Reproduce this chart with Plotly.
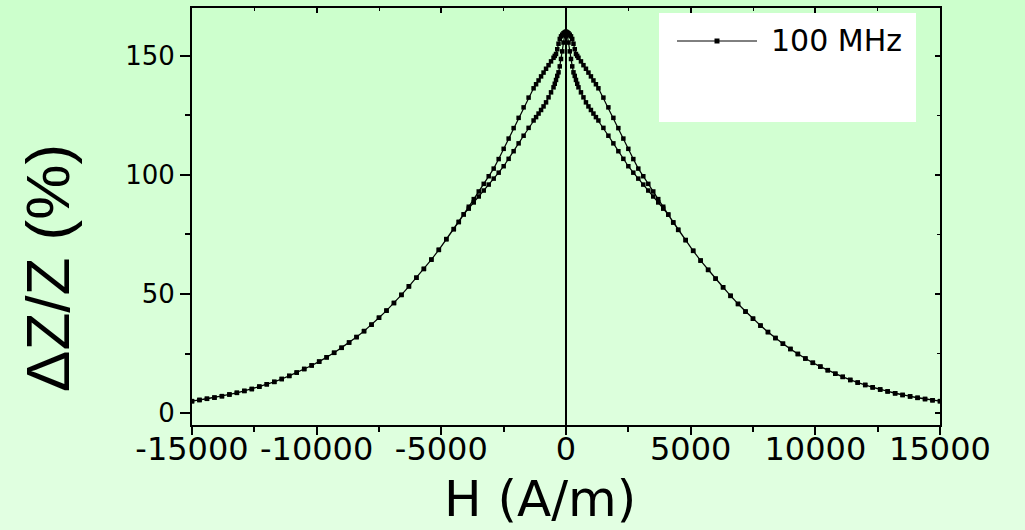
import plotly.graph_objects as go

# ---------------- data ----------------
# applied field H (A/m), measured points, ascending
H = [-15000, -14700, -14400, -14100, -13800, -13500, -13200, -12900, -12600, -12300,
     -12000, -11700, -11400, -11100, -10800, -10500, -10200, -9900, -9600, -9300,
     -9000, -8700, -8400, -8100, -7800, -7500, -7200, -6900, -6600, -6300,
     -6000, -5700, -5400, -5100, -4800, -4500, -4300, -4100, -3900, -3700,
     -3500, -3300, -3100, -2900, -2700, -2500, -2300, -2100, -1900, -1700,
     -1500, -1300, -1200, -1100, -1000, -900, -800, -700, -600, -500,
     -450, -400, -350, -300, -250, -200, -150, -100, -50, 0,
     50, 100, 150, 200, 250, 300, 350, 400, 450, 500,
     600, 700, 800, 900, 1000, 1100, 1200, 1300, 1500, 1700,
     1900, 2100, 2300, 2500, 2700, 2900, 3100, 3300, 3500, 3700,
     3900, 4100, 4300, 4500, 4800, 5100, 5400, 5700, 6000, 6300,
     6600, 6900, 7200, 7500, 7800, 8100, 8400, 8700, 9000, 9300,
     9600, 9900, 10200, 10500, 10800, 11100, 11400, 11700, 12000, 12300,
     12600, 12900, 13200, 13500, 13800, 14100, 14400, 14700, 15000]

# dZ/Z (%) for the sweep -15000 -> +15000 (values listed in ascending H order)
dZ_forward = [5.0, 5.5, 6.0, 6.5, 7.1, 7.8, 8.5, 9.3, 10.1, 11.1,
              12.1, 13.1, 14.3, 15.6, 17.0, 18.5, 20.0, 21.6, 23.4, 25.3,
              27.4, 29.6, 31.9, 34.4, 37.1, 40.0, 43.0, 46.2, 49.6, 53.2,
              56.8, 60.5, 64.4, 68.5, 73.0, 77.2, 80.2, 83.4, 86.6, 89.8,
              93.0, 96.2, 99.4, 102.6, 106.6, 110.9, 115.2, 119.6, 123.9, 128.3,
              132.4, 136.3, 138.0, 139.6, 141.3, 142.9, 144.5, 146.0, 147.6, 149.1,
              149.9, 150.7, 152.7, 155.0, 157.0, 158.1, 158.8, 159.4, 159.8, 160.0,
              158.5, 155.5, 151.8, 148.6, 145.5, 143.0, 141.5, 139.8, 138.2, 136.7,
              134.6, 132.5, 130.4, 128.7, 127.2, 125.7, 124.2, 122.8, 119.7, 116.4,
              113.2, 109.9, 106.7, 103.6, 100.9, 98.4, 95.9, 93.4, 90.9, 88.4,
              85.8, 83.3, 80.0, 76.9, 72.6, 68.1, 64.0, 60.1, 56.4, 52.8,
              49.2, 45.8, 42.6, 39.6, 36.7, 34.0, 31.5, 29.1, 26.9, 24.8,
              22.9, 21.1, 19.5, 18.0, 16.5, 15.2, 13.9, 12.8, 11.8, 10.8,
              9.9, 9.1, 8.3, 7.6, 7.0, 6.4, 5.9, 5.4, 5.0]

# dZ/Z (%) for the return sweep +15000 -> -15000 (also listed in ascending H order)
dZ_backward = [5.0, 5.5, 6.0, 6.5, 7.1, 7.8, 8.5, 9.3, 10.1, 11.1,
               12.1, 13.1, 14.3, 15.6, 17.0, 18.5, 20.0, 21.6, 23.4, 25.3,
               27.4, 29.6, 31.9, 34.4, 37.1, 40.0, 43.0, 46.2, 49.6, 53.2,
               56.8, 60.5, 64.4, 68.5, 73.0, 77.2, 80.2, 83.4, 85.8, 88.4,
               90.9, 93.4, 95.9, 98.4, 100.9, 103.6, 106.7, 109.9, 113.2, 116.4,
               119.7, 122.8, 124.2, 125.7, 127.2, 128.7, 130.4, 132.5, 134.6, 136.7,
               138.2, 139.8, 141.5, 143.0, 145.5, 148.6, 151.8, 155.5, 158.5, 160.0,
               159.8, 159.4, 158.8, 158.1, 157.0, 155.0, 152.7, 150.7, 149.9, 149.1,
               147.6, 146.0, 144.5, 142.9, 141.3, 139.6, 138.0, 136.3, 132.4, 128.3,
               123.9, 119.6, 115.2, 110.9, 106.6, 102.6, 99.4, 96.2, 93.0, 89.8,
               86.6, 83.3, 80.0, 76.9, 72.6, 68.1, 64.0, 60.1, 56.4, 52.8,
               49.2, 45.8, 42.6, 39.6, 36.7, 34.0, 31.5, 29.1, 26.9, 24.8,
               22.9, 21.1, 19.5, 18.0, 16.5, 15.2, 13.9, 12.8, 11.8, 10.8,
               9.9, 9.1, 8.3, 7.6, 7.0, 6.4, 5.9, 5.4, 5.0]

series_name = "100 MHz"
x_title = "H (A/m)"
y_title = "\u0394Z/Z (%)"
x_ticks = [-15000, -10000, -5000, 0, 5000, 10000, 15000]
x_ticktext = ["-15000", "-10000", "-5000", "0", "5000", "10000", "15000"]
y_ticks = [0, 50, 100, 150]
y_ticktext = ["0", "50", "100", "150"]
x_range = [-15000, 15000]
y_range = [-5, 170]

# ---------------- layout geometry (pixels of the 1025x530 page) ----------------
W, HGT = 1025, 530
L, R, T, B = 192, 940, 8, 425          # plot area edges


def px_x(p):
    return (p - L) / (R - L)


def px_y(p):
    return (B - p) / (B - T)


# full loop: forward sweep then return sweep
loop_x = H + H[::-1]
loop_y = dZ_forward + dZ_backward[::-1]

fig = go.Figure()
fig.add_trace(go.Scatter(
    x=loop_x, y=loop_y, mode="lines+markers", name=series_name,
    line=dict(color="black", width=1.2),
    marker=dict(symbol="square", size=4.5, color="black"),
    showlegend=False, cliponaxis=True,
))

shapes = []
# vertical background gradient (light green)
top_c = (204, 255, 204)
bot_c = (226, 255, 226)
n = 53
for i in range(n):
    f = i / (n - 1)
    c = tuple(round(top_c[k] + (bot_c[k] - top_c[k]) * f) for k in range(3))
    y0 = i * 10
    y1 = y0 + 11
    shapes.append(dict(type="rect", xref="paper", yref="paper",
                       x0=px_x(-5), x1=px_x(W + 5), y0=px_y(y1), y1=px_y(y0),
                       fillcolor="rgb(%d,%d,%d)" % c, line=dict(width=0), layer="below"))

# legend drawn as a white box with a sample line + marker
shapes.append(dict(type="rect", xref="paper", yref="paper",
                   x0=px_x(659), x1=px_x(916), y0=px_y(122), y1=px_y(13),
                   fillcolor="white", line=dict(width=0), layer="above"))
shapes.append(dict(type="line", xref="paper", yref="paper",
                   x0=px_x(677), x1=px_x(757), y0=px_y(41), y1=px_y(41),
                   line=dict(color="black", width=1), layer="above"))
shapes.append(dict(type="rect", xref="paper", yref="paper",
                   xsizemode="pixel", ysizemode="pixel",
                   xanchor=px_x(717), yanchor=px_y(41),
                   x0=-2.5, x1=2.5, y0=-2.5, y1=2.5,
                   fillcolor="black", line=dict(width=0), layer="above"))

annotations = [
    dict(text=series_name, xref="paper", yref="paper", x=px_x(769), y=px_y(41),
         xanchor="left", yanchor="middle", showarrow=False,
         font=dict(family="DejaVu Sans", size=30, color="black")),
    dict(text=x_title, xref="paper", yref="paper", x=px_x(540), y=px_y(499),
         xanchor="center", yanchor="middle", showarrow=False,
         font=dict(family="DejaVu Sans", size=50, color="black")),
    dict(text=y_title, xref="paper", yref="paper", x=px_x(47), y=px_y(268),
         xanchor="center", yanchor="middle", showarrow=False, textangle=-90,
         font=dict(family="Liberation Sans", size=62, color="black")),
]

# dummy (empty) trace so the mirrored top/right axes get a subplot
fig.add_trace(go.Scatter(x=[None], y=[None], xaxis="x2", yaxis="y2",
                         showlegend=False, hoverinfo="skip"))

fig.update_layout(
    width=W, height=HGT, autosize=False,
    margin=dict(l=L, r=W - R, t=T, b=HGT - B, pad=0),
    paper_bgcolor="rgb(204,255,204)", plot_bgcolor="rgba(0,0,0,0)",
    showlegend=False,
    shapes=shapes, annotations=annotations,
    xaxis=dict(range=x_range, tickmode="array", tickvals=x_ticks, ticktext=x_ticktext,
               ticks="outside", ticklen=8, tickwidth=2, tickcolor="black",
               ticklabelstandoff=-13,
               minor=dict(ticks="outside", ticklen=5, tickwidth=1.5, dtick=2500,
                          tick0=0, tickcolor="black", showgrid=False),
               showline=True, linecolor="black", linewidth=2,
               showgrid=False, zeroline=True, zerolinecolor="black", zerolinewidth=2,
               tickangle=0, tickfont=dict(family="DejaVu Sans", size=32, color="black")),
    yaxis=dict(range=y_range, tickmode="array", tickvals=y_ticks, ticktext=y_ticktext,
               ticks="outside", ticklen=10, tickwidth=2, tickcolor="black",
               minor=dict(ticks="outside", ticklen=5, tickwidth=1.5, dtick=25,
                          tick0=0, tickcolor="black", showgrid=False),
               showline=True, linecolor="black", linewidth=2,
               showgrid=False, zeroline=False,
               tickfont=dict(family="DejaVu Sans", size=26, color="black")),
    xaxis2=dict(range=x_range, overlaying="x", side="top", anchor="y2",
                tickmode="array", tickvals=x_ticks, ticks="inside", ticklen=5,
                tickwidth=1.5, tickcolor="black",
                minor=dict(ticks="inside", ticklen=3, tickwidth=1, dtick=2500,
                           tick0=0, tickcolor="black", showgrid=False),
                showline=True, linecolor="black", linewidth=2,
                showgrid=False, zeroline=False, showticklabels=False),
    yaxis2=dict(range=y_range, overlaying="y", side="right", anchor="x2",
                tickmode="array", tickvals=y_ticks, ticks="inside", ticklen=5,
                tickwidth=1.5, tickcolor="black",
                minor=dict(ticks="inside", ticklen=3, tickwidth=1, dtick=25,
                           tick0=0, tickcolor="black", showgrid=False),
                showline=True, linecolor="black", linewidth=2,
                showgrid=False, zeroline=False, showticklabels=False),
)

fig.write_html("out.html")
